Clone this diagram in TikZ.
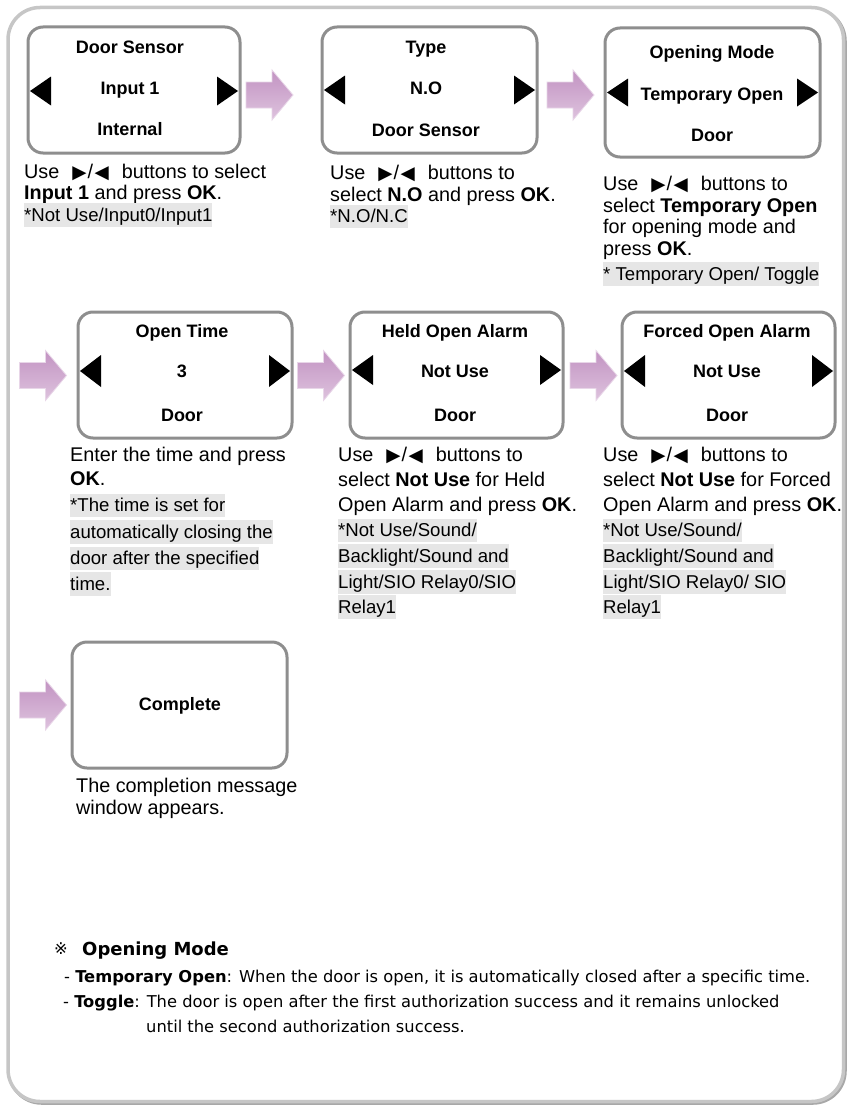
\documentclass[tikz,border=0pt]{standalone}
\usepackage{fontspec}
\setmainfont{Liberation Sans}
\newfontfamily\symfont{DejaVu Sans}
\newfontfamily\notefont{DejaVu Sans}
\usetikzlibrary{calc}
\definecolor{boxgray}{HTML}{8E8E8E}
\definecolor{hlgray}{HTML}{E6E6E6}
\definecolor{framegray}{HTML}{C6C6C6}
\definecolor{shadowgray}{HTML}{A8A8A8}
\definecolor{arrtop}{HTML}{C293C2}
\definecolor{arrbot}{HTML}{DEC3DE}
\definecolor{arredge}{HTML}{E8D6E8}
\newcommand\fsz{\fontsize{18pt}{21.5pt}\selectfont}
\newcommand\dsz{\fontsize{19.8pt}{21.5pt}\selectfont}
\newcommand\hsz{\fontsize{18.6pt}{21.5pt}\selectfont}
\newcommand\symtri[1]{{\symfont\fontsize{18.5pt}{18.5pt}\selectfont #1}}
\newcommand\lr{\hspace{13pt}\symtri{▶}\hspace{1pt}/\hspace{1.5pt}\symtri{◀}\hspace{13pt}}
\newcommand\boxtris[3]{%
  \fill ($(#1.west)+(3.5,#2)$) -- ++(21,-#3) -- ++(0,2*#3) -- cycle;
  \fill ($(#1.east)+(-3.5,#2)$) -- ++(-21,-#3) -- ++(0,2*#3) -- cycle;}
\newcommand\fatarrow[3]{%
  \coordinate (#1) at (#2,#3);
  \shade[top color=arrtop, bottom color=arrbot, draw=arredge, line width=0.8pt]
    ($(#1)+(-23.5,-13)$) -- ++(26,0) -- ++(0,-12) -- ++(21,25) -- ++(-21,25)
    -- ++(0,-12) -- ++(-26,0) -- cycle;}
\begin{document}
\begin{tikzpicture}[x=1pt,y=-1pt,
  scr/.style={draw=boxgray, line width=3pt, rounded corners=15pt, fill=white, inner sep=0pt},
  lbl/.style={font=\fsz\bfseries, anchor=base, inner sep=0pt},
  desc/.style={font=\dsz, anchor=base west, inner sep=0pt},
  hl/.style={font=\hsz, anchor=base west, fill=hlgray, inner xsep=0pt, inner ysep=2pt, text height=16pt, text depth=3.5pt},
  note/.style={font=\notefont\fontsize{16.3pt}{20pt}\selectfont, anchor=base west, inner sep=0pt}
]
\useasboundingbox (0,0) rectangle (850,1108);
% outer frame
\draw[shadowgray, line width=3.5pt, rounded corners=32pt] (9.5,9) rectangle (845,1103);
\draw[framegray, line width=3.5pt, rounded corners=32pt, fill=white] (8,7.5) rectangle (843.5,1101.5);

% screens
\node[scr, minimum width=212pt, minimum height=126pt] (b1) at (134,90) {};
\node[scr, minimum width=215pt, minimum height=126pt] (b2) at (429.5,90) {};
\node[scr, minimum width=215pt, minimum height=129pt] (b3) at (712.5,92.5) {};
\node[scr, minimum width=214pt, minimum height=126pt] (b4) at (185,375) {};
\node[scr, minimum width=213pt, minimum height=126pt] (b5) at (456.5,375) {};
\node[scr, minimum width=213pt, minimum height=126pt] (b6) at (728.5,375) {};
\node[scr, minimum width=215pt, minimum height=126pt] (b7) at (179.5,705) {};

\boxtris{b1}{1}{14.5}
\boxtris{b2}{0}{14.5}
\boxtris{b3}{0}{14}
\boxtris{b4}{-4}{16}
\boxtris{b5}{-5}{15}
\boxtris{b6}{-4}{16}

% screen labels
\node[lbl] (b1a) at (130,53.3) {Door Sensor};
\node[lbl] (b1b) at (130,95) {Input 1};
\node[lbl] (b1c) at (130,135) {Internal};
\node[lbl] (b2a) at (426,53) {Type};
\node[lbl] (b2b) at (426,95) {N.O};
\node[lbl] (b2c) at (426,136.5) {Door Sensor};
\node[lbl] (b3a) at (712,59) {Opening Mode};
\node[lbl] (b3b) at (712,100) {Temporary Open};
\node[lbl] (b3c) at (712,141.5) {Door};
\node[lbl] (b4a) at (182,337) {Open Time};
\node[lbl] (b4b) at (182,377) {3};
\node[lbl] (b4c) at (182,421) {Door};
\node[lbl] (b5a) at (455,337) {Held Open Alarm};
\node[lbl] (b5b) at (455,377) {Not Use};
\node[lbl] (b5c) at (455,421) {Door};
\node[lbl] (b6a) at (727,337) {Forced Open Alarm};
\node[lbl] (b6b) at (727,377) {Not Use};
\node[lbl] (b6c) at (727,421) {Door};
\node[lbl] (b7a) at (180,710) {Complete};

% block arrows between screens
\fatarrow{a1}{269.5}{95}
\fatarrow{a2}{570.5}{95}
\fatarrow{a3}{43}{375.5}
\fatarrow{a4}{321}{375.5}
\fatarrow{a5}{593.5}{375.5}
\fatarrow{a6}{43}{705}

% descriptions row 1
\node[desc] (d1a) at (24,178.3) {Use\lr buttons to select};
\node[desc] (d1b) at (24,199.5) {\textbf{Input 1} and press \textbf{OK}.};
\node[hl]   (d1c) at (24,221) {*Not Use/Input0/Input1};

\node[desc] (d2a) at (330,179.5) {Use\lr buttons to};
\node[desc] (d2b) at (330,201.5) {select \textbf{N.O} and press \textbf{OK}.};
\node[hl]   (d2c) at (330,222.5) {*N.O/N.C};

\node[desc] (d3a) at (603,190) {Use\lr buttons to};
\node[desc] (d3b) at (603,212) {select \textbf{Temporary Open}};
\node[desc] (d3c) at (603,233.5) {for opening mode and};
\node[desc] (d3d) at (603,255) {press \textbf{OK}.};
\node[hl]   (d3e) at (603,280) {* Temporary Open/ Toggle};

% descriptions row 2
\node[desc] (d4a) at (70,461) {Enter the time and press};
\node[desc] (d4b) at (70,485) {\textbf{OK}.};
\node[hl]   (d4c) at (70,511.5) {*The time is set for\hspace{5pt}};
\node[hl]   (d4d) at (70,538) {automatically closing the\hspace{5pt}};
\node[hl]   (d4e) at (70,564.5) {door after the specified\hspace{5pt}};
\node[hl]   (d4f) at (70,590) {time.};

\node[desc] (d5a) at (338,461.5) {Use\lr buttons to};
\node[desc] (d5b) at (338,486.5) {select \textbf{Not Use} for Held};
\node[desc] (d5c) at (338,511.5) {Open Alarm and press \textbf{OK}.};
\node[hl]   (d5d) at (338,536.5) {*Not Use/Sound/\hspace{5pt}};
\node[hl]   (d5e) at (338,562) {Backlight/Sound and\hspace{5pt}};
\node[hl]   (d5f) at (338,588) {Light/SIO Relay0/SIO\hspace{5pt}};
\node[hl]   (d5g) at (338,613) {Relay1};

\node[desc] (d6a) at (603,461.5) {Use\lr buttons to};
\node[desc] (d6b) at (603,486.5) {select \textbf{Not Use} for Forced};
\node[desc] (d6c) at (603,511.5) {Open Alarm and press \textbf{OK}.};
\node[hl]   (d6d) at (603,536.5) {*Not Use/Sound/\hspace{5pt}};
\node[hl]   (d6e) at (603,562) {Backlight/Sound and\hspace{5pt}};
\node[hl]   (d6f) at (603,588) {Light/SIO Relay0/ SIO\hspace{5pt}};
\node[hl]   (d6g) at (603,613) {Relay1};

% row 3
\node[desc] (d7a) at (76,792) {The completion message};
\node[desc] (d7b) at (76,814.5) {window appears.};

% note
\node[note] (n0) at (54,954) {※};
\node[note, font=\notefont\fontsize{18pt}{20pt}\selectfont\bfseries] (n1) at (82,955) {Opening Mode};
\node[note] (n2) at (64,982) {- \textbf{Temporary Open}: When the door is open, it is automatically closed after a specific time.};
\node[note] (n3) at (63,1007) {- \textbf{Toggle}: The door is open after the first authorization success and it remains unlocked};
\node[note] (n4) at (146,1032) {until the second authorization success.};
\end{tikzpicture}
\end{document}
